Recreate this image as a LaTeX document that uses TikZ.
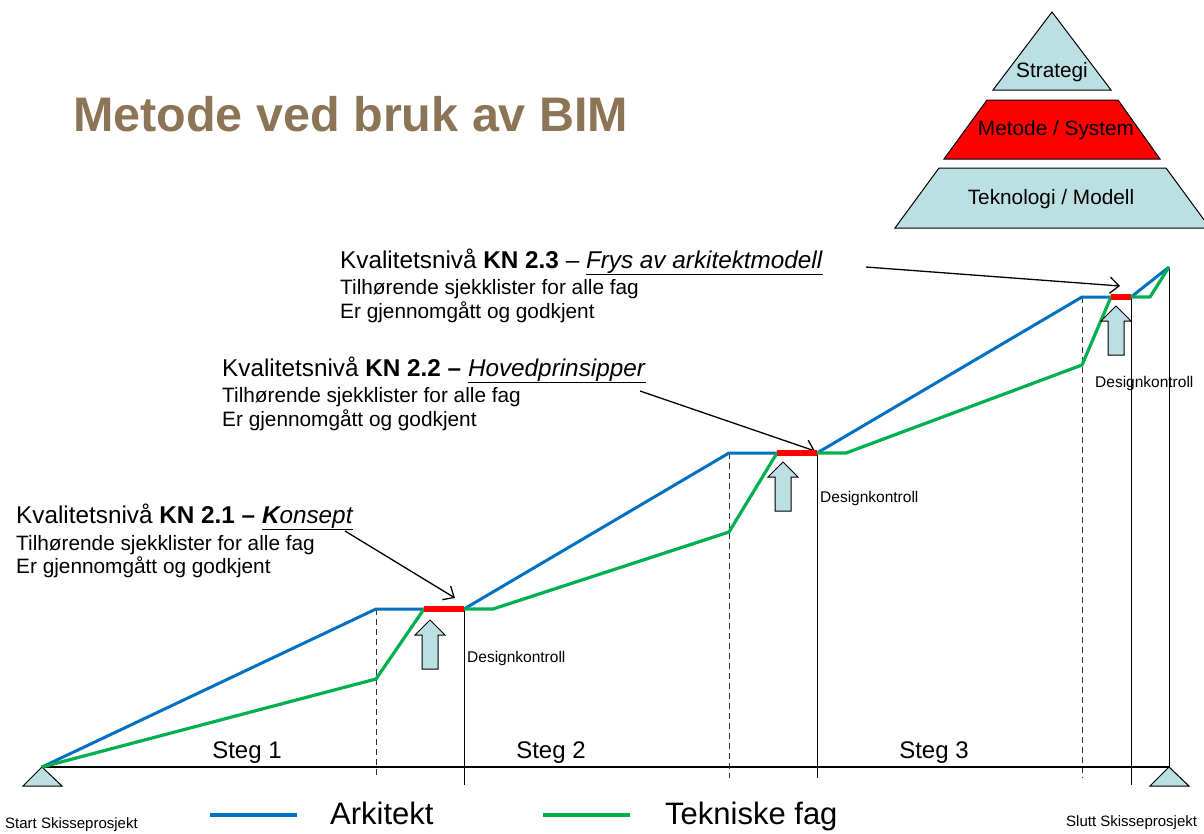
\documentclass[tikz,border=0pt]{standalone}
\usepackage{fontspec}
\setmainfont{Liberation Sans}
\usetikzlibrary{arrows.meta}

\definecolor{arkblue}{HTML}{0070C0}
\definecolor{tekgreen}{HTML}{00B050}
\definecolor{frost}{HTML}{BCE0E2}
\definecolor{titlebrown}{HTML}{8C7456}

\newcommand{\fsz}[1]{\fontsize{#1}{#1}\selectfont}
% upward block arrow with its tip at (#1,#2)
\newcommand{\raisearrow}[2]{%
  \filldraw[liftbox] (#1,#2) -- ++(15,15) -- ++(-7,0) -- ++(0,34) -- ++(-16,0)
    -- ++(0,-34) -- ++(-7,0) -- cycle;}

\tikzset{
  arkline/.style={arkblue, line width=3pt, line join=round},
  tekline/.style={tekgreen, line width=3.2pt, line join=round},
  freeze/.style={red, line width=6pt},
  guide/.style={dash pattern=on 6pt off 4pt, line width=1pt, black!80},
  gate/.style={line width=1pt},
  note/.style={-{Straight Barb[length=9pt,width=16pt]}, line width=1.3pt},
  liftbox/.style={fill=frost, draw=black, line width=1pt, line join=miter},
  support/.style={fill=frost, draw=black, line width=1pt},
  tier/.style={draw=black, line width=1pt},
  txt/.style={inner sep=0pt, anchor=base west},
}

\begin{document}
\begin{tikzpicture}[x=1pt,y=-1pt]
\useasboundingbox (0,0) rectangle (1204,833);
\clip (0,0) rectangle (1204,833);

% title
\node[txt, text=titlebrown] (title) at (73,131) {\fsz{48.5}\bfseries Metode ved bruk av BIM};

% pyramid
\filldraw[tier, fill=frost] (1052,12) -- (1111,90) -- (993,90) -- cycle;
\filldraw[tier, fill=red] (987,100) -- (1118,100) -- (1160,159) -- (944,159) -- cycle;
\filldraw[tier, fill=frost] (939,168) -- (1166,168) -- (1210,228) -- (895,228) -- cycle;
\node[inner sep=0pt] (strategi) at (1052,72) {\fsz{20.8}Strategi};
\node[inner sep=0pt] (metode) at (1056,130) {\fsz{20.8}Metode / System};
\node[inner sep=0pt] (teknologi) at (1051,199) {\fsz{20.8}Teknologi / Modell};

% key points of the timeline
\coordinate (start) at (42,767);
\coordinate (end) at (1169,767);
\coordinate (a1) at (376,609);  \coordinate (a2) at (464,609);
\coordinate (a3) at (729,453);  \coordinate (a4) at (817,453);
\coordinate (a5) at (1082,297); \coordinate (a6) at (1131,297);
\coordinate (top) at (1169,267);
\coordinate (t1) at (376,679);  \coordinate (t2) at (424,609);
\coordinate (t3) at (493,609);  \coordinate (t4) at (729,532);
\coordinate (t5) at (777,453);  \coordinate (t6) at (846,453);
\coordinate (t7) at (1082,365); \coordinate (t8) at (1111,297);
\coordinate (t9) at (1150,297);

% step boundaries
\draw[guide] (a1) -- (376,778);
\draw[guide] (a3) -- (729,778);
\draw[guide] (a5) -- (1082,778);
\draw[gate] (a2) -- (464,785);
\draw[gate] (a4) -- (817,778);
\draw[gate] (a6) -- (1131,785);
\draw[gate] (top) -- (end);

% baseline with supports
\draw[line width=1.4pt] (start) -- (end);
\filldraw[support] (start) -- (62,786) -- (23,786) -- cycle;
\filldraw[support] (end) -- (1189,786) -- (1150,786) -- cycle;

% progress lines
\draw[arkline] (start) -- (a1) -- (a2) -- (a3) -- (a4) -- (a5) -- (a6) -- (top);
\draw[tekline] (start) -- (t1) -- (t2) -- (a2) -- (t3) -- (t4) -- (t5) -- (a4)
  -- (t6) -- (t7) -- (t8) -- (a6) -- (t9) -- (top);

% quality level callouts
\node[txt] (kn1) at (16,523) {\fsz{24.3}Kvalitetsnivå \textbf{KN 2.1 –} \underline{\textit{\textbf{K}onsept}}};
\node[txt] (kn1b) at (16,550) {\fsz{20.8}Tilhørende sjekklister for alle fag};
\node[txt] (kn1c) at (16,573) {\fsz{20.8}Er gjennomgått og godkjent};

\node[txt] (kn2) at (222,376) {\fsz{24.3}Kvalitetsnivå \textbf{KN 2.2 –} \underline{\textit{Hovedprinsipper}}};
\node[txt] (kn2b) at (222,402) {\fsz{20.8}Tilhørende sjekklister for alle fag};
\node[txt] (kn2c) at (222,426) {\fsz{20.8}Er gjennomgått og godkjent};

\node[txt] (kn3) at (340,268) {\fsz{24.3}Kvalitetsnivå \textbf{KN 2.3} – \underline{\textit{Frys av arkitektmodell}}};
\node[txt] (kn3b) at (340,294) {\fsz{20.8}Tilhørende sjekklister for alle fag};
\node[txt] (kn3c) at (340,318) {\fsz{20.8}Er gjennomgått og godkjent};

\coordinate (n1s) at (345,531); \coordinate (n1e) at (455,598);
\coordinate (n2s) at (640,391); \coordinate (n2e) at (815,451);
\coordinate (n3s) at (866,267); \coordinate (n3e) at (1120,286);
\draw[note] (n1s) -- (n1e);
\draw[note] (n2s) -- (n2e);
\draw[note] (n3s) -- (n3e);

% frozen design segments
\draw[freeze] (t2) -- (a2);
\draw[freeze] (t5) -- (a4);
\draw[freeze] (t8) -- (a6);

% design control arrows
\raisearrow{430}{620}
\raisearrow{783}{462}
\raisearrow{1116}{306}
\node[txt] (dk1) at (467,662) {\fsz{15.5}Designkontroll};
\node[txt] (dk2) at (820,502) {\fsz{15.5}Designkontroll};
\node[txt] (dk3) at (1095,387) {\fsz{15.5}Designkontroll};

% step labels
\node[inner sep=0pt, anchor=base] (steg1) at (247,758) {\fsz{24}Steg 1};
\node[inner sep=0pt, anchor=base] (steg2) at (551,758) {\fsz{24}Steg 2};
\node[inner sep=0pt, anchor=base] (steg3) at (934,758) {\fsz{24}Steg 3};

% start and end
\node[txt] (startlbl) at (5,828) {\fsz{15}Start Skisseprosjekt};
\node[txt] (sluttlbl) at (1066,826) {\fsz{15}Slutt Skisseprosjekt};

% legend
\coordinate (la) at (210,815); \coordinate (lb) at (297,815);
\coordinate (lc) at (543,815); \coordinate (ld) at (630,815);
\draw[arkblue, line width=4pt] (la) -- (lb);
\draw[tekgreen, line width=4pt] (lc) -- (ld);
\node[txt] (arkitekt) at (330,824) {\fsz{31}Arkitekt};
\node[txt] (tekniske) at (665,824) {\fsz{31}Tekniske fag};
\end{tikzpicture}
\end{document}
